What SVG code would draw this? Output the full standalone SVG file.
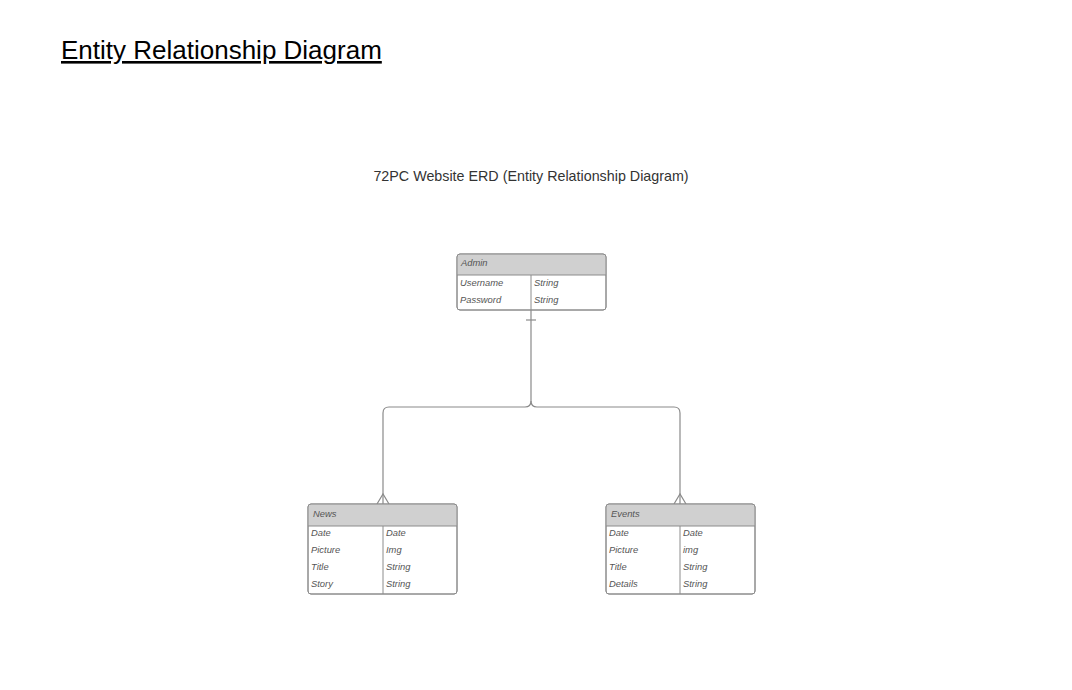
<svg xmlns="http://www.w3.org/2000/svg" width="1072" height="690" viewBox="0 0 1072 690">
<style>
.box{fill:#fff;stroke:#8c8c8c;stroke-width:1}
.hdr{fill:#d0d0d0}
.div{stroke:#8c8c8c;stroke-width:1}
.t{font-family:"Liberation Sans",Arial,sans-serif;font-size:9.4px;font-style:italic;fill:#555}
.c{fill:none;stroke:#8a8a8a;stroke-width:1.2}
</style>
<rect width="1072" height="690" fill="#fff"/>
<text x="61" y="59" font-family="Liberation Sans,Arial,sans-serif" font-size="26" fill="#000" text-decoration="underline">Entity Relationship Diagram</text>
<text x="531" y="181" text-anchor="middle" font-family="Liberation Sans,Arial,sans-serif" font-size="14.3" fill="#333">72PC Website ERD (Entity Relationship Diagram)</text>
<g id="connectors">
<path class="c" d="M531 310 V401 Q531 407 525 407 H389 Q383 407 383 413 V504"/>
<path class="c" d="M531 401 Q531 407 537 407 H674 Q680 407 680 413 V504"/>
<path class="c" d="M526 320 H536"/>
<path class="c" d="M377 504 L383 494 L389 504"/>
<path class="c" d="M674 504 L680 494 L686 504"/>
</g>
<g id="admin">
<rect class="box" x="457" y="254" width="149" height="56" rx="3"/>
<path class="hdr" d="M460 254.5 H603 Q605.5 254.5 605.5 257 V275 H457.5 V257 Q457.5 254.5 460 254.5Z"/>
<rect class="box" x="457" y="254" width="149" height="56" rx="3" style="fill:none"/>
<line class="div" x1="457" y1="275" x2="606" y2="275"/>
<line class="div" x1="531" y1="275" x2="531" y2="310"/>
<text class="t" x="461" y="266">Admin</text>
<text class="t" x="460" y="286">Username</text>
<text class="t" x="534" y="286">String</text>
<text class="t" x="460" y="303">Password</text>
<text class="t" x="534" y="303">String</text>
</g>
<g id="news">
<rect class="box" x="308" y="504" width="149" height="90" rx="3"/>
<path class="hdr" d="M311 504.5 H454 Q456.5 504.5 456.5 507 V526 H308.5 V507 Q308.5 504.5 311 504.5Z"/>
<rect class="box" x="308" y="504" width="149" height="90" rx="3" style="fill:none"/>
<line class="div" x1="308" y1="526" x2="457" y2="526"/>
<line class="div" x1="383" y1="526" x2="383" y2="594"/>
<text class="t" x="313" y="517">News</text>
<text class="t" x="311" y="536">Date</text>
<text class="t" x="386" y="536">Date</text>
<text class="t" x="311" y="553">Picture</text>
<text class="t" x="386" y="553">Img</text>
<text class="t" x="311" y="570">Title</text>
<text class="t" x="386" y="570">String</text>
<text class="t" x="311" y="587">Story</text>
<text class="t" x="386" y="587">String</text>
</g>
<g id="events">
<rect class="box" x="606" y="504" width="149" height="90" rx="3"/>
<path class="hdr" d="M609 504.5 H752 Q754.5 504.5 754.5 507 V526 H606.5 V507 Q606.5 504.5 609 504.5Z"/>
<rect class="box" x="606" y="504" width="149" height="90" rx="3" style="fill:none"/>
<line class="div" x1="606" y1="526" x2="755" y2="526"/>
<line class="div" x1="680" y1="526" x2="680" y2="594"/>
<text class="t" x="611" y="517">Events</text>
<text class="t" x="609" y="536">Date</text>
<text class="t" x="683" y="536">Date</text>
<text class="t" x="609" y="553">Picture</text>
<text class="t" x="683" y="553">img</text>
<text class="t" x="609" y="570">Title</text>
<text class="t" x="683" y="570">String</text>
<text class="t" x="609" y="587">Details</text>
<text class="t" x="683" y="587">String</text>
</g>
</svg>
